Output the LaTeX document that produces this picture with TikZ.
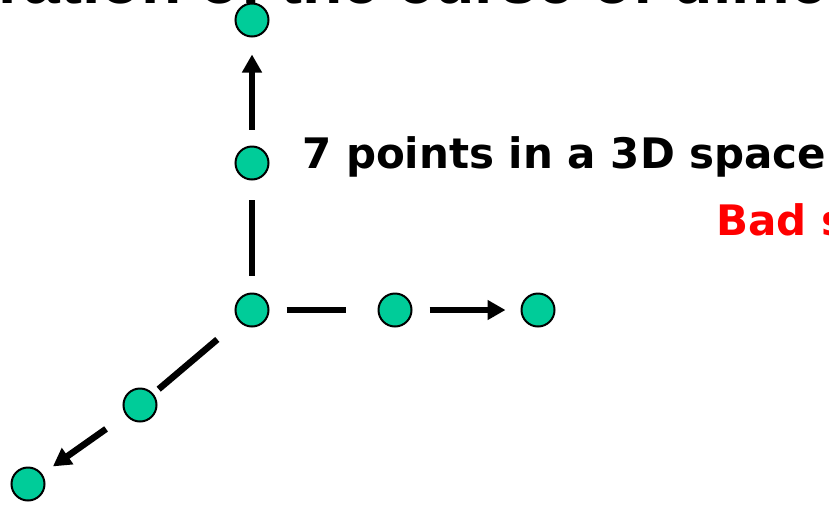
\documentclass[tikz,border=0pt]{standalone}
\usepackage{fontspec}
\setmainfont{DejaVu Sans}
\newfontfamily\titlefont{Liberation Sans}
\usetikzlibrary{arrows.meta}
\definecolor{pointgreen}{HTML}{00CC99}
\definecolor{badred}{HTML}{FF0000}
\tikzset{
  pt/.style={circle, draw=black, line width=2pt, fill=pointgreen, minimum size=33pt, inner sep=0pt},
  seg/.style={line width=6.5pt, black},
  arr/.style={line width=6.5pt, black, -{Triangle[length=18pt,width=19pt]}},
}
\begin{document}
\begin{tikzpicture}[x=1pt,y=-1pt]
\useasboundingbox (0,0) rectangle (829,504);
\clip (0,0) rectangle (829,504);
\node[anchor=base west, inner sep=0pt, font=\titlefont\bfseries\fontsize{66}{70}\selectfont] (title) at (-24,3) {tration of the curse of dime};
\node[pt] (top) at (252,20) {};
\node[pt] (v1) at (252,163) {};
\node[pt] (o) at (252,310) {};
\node[pt] (h1) at (395,310) {};
\node[pt] (h2) at (538,310) {};
\node[pt] (d1) at (140,405) {};
\node[pt] (d2) at (28,484) {};
\draw[seg, shorten <=17pt, shorten >=19pt] (o) -- (v1);
\draw[arr, shorten <=16pt, shorten >=17pt] (v1) -- (top);
\draw[seg, shorten <=17pt, shorten >=32pt] (o) -- (h1);
\draw[arr, shorten <=17pt, shorten >=15pt] (h1) -- (h2);
\draw[seg, shorten <=28pt, shorten >=7pt] (o) -- (d1);
\draw[arr, shorten <=24pt, shorten >=13pt] (d1) -- (d2);
\node[anchor=base west, inner sep=0pt, font=\bfseries\fontsize{42}{48}\selectfont] (lbl) at (302,168) {7 points in a 3D space};
\node[anchor=base west, inner sep=0pt, text=badred, font=\bfseries\fontsize{42}{48}\selectfont] (bad) at (716,235) {Bad s};
\end{tikzpicture}
\end{document}
